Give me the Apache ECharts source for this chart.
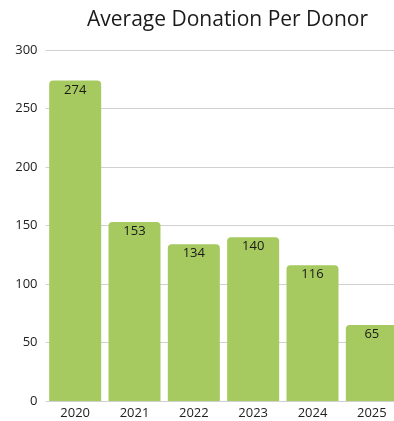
<!DOCTYPE html>
<html>
<head>
<meta charset="utf-8">
<script src="https://cdn.jsdelivr.net/npm/echarts@6/dist/echarts.min.js"></script>
<style>
  html, body { margin: 0; padding: 0; background: #fff; overflow: hidden; }
  #chart { width: 410px; height: 421px; }
</style>
</head>
<body>
<div id="chart"></div>
<script>
// Average donation per donor by year
const years = ['2020', '2021', '2022', '2023', '2024', '2025'];
const avgDonation = [274, 153, 134, 140, 116, 65];
const yTicks = [0, 50, 100, 150, 200, 250, 300];

const chart = echarts.init(document.getElementById('chart'));
chart.setOption({
  animation: false,
  textStyle: { fontFamily: 'Open Sans, Noto Sans, sans-serif' },
  title: {
    text: 'Average Donation Per Donor',
    left: 82,
    top: 5,
    textStyle: { fontSize: 21, fontWeight: 'normal', color: '#1a1a1a', fontFamily: 'Open Sans, Noto Sans, sans-serif' }
  },
  grid: { left: 45.5, top: 50, width: 356, bottom: 20, containLabel: false },
  xAxis: {
    type: 'category',
    data: years,
    axisLine: { show: false },
    axisTick: { show: false },
    axisLabel: { color: '#222', fontSize: 13, margin: 6 }
  },
  yAxis: {
    type: 'value',
    min: yTicks[0],
    max: yTicks[yTicks.length - 1],
    interval: 50,
    axisLine: { show: false },
    axisTick: { show: false },
    axisLabel: { color: '#222', fontSize: 13, margin: 8 },
    splitLine: { lineStyle: { color: '#d0d0d0', width: 1 } }
  },
  series: [{
    type: 'bar',
    data: avgDonation,
    barWidth: 52,
    itemStyle: { color: '#a6c960', borderRadius: [4, 4, 0, 0] },
    label: {
      show: true,
      position: 'insideTop',
      distance: 3,
      color: '#1a1a1a',
      fontSize: 13
    }
  }]
});
</script>
</body>
</html>
